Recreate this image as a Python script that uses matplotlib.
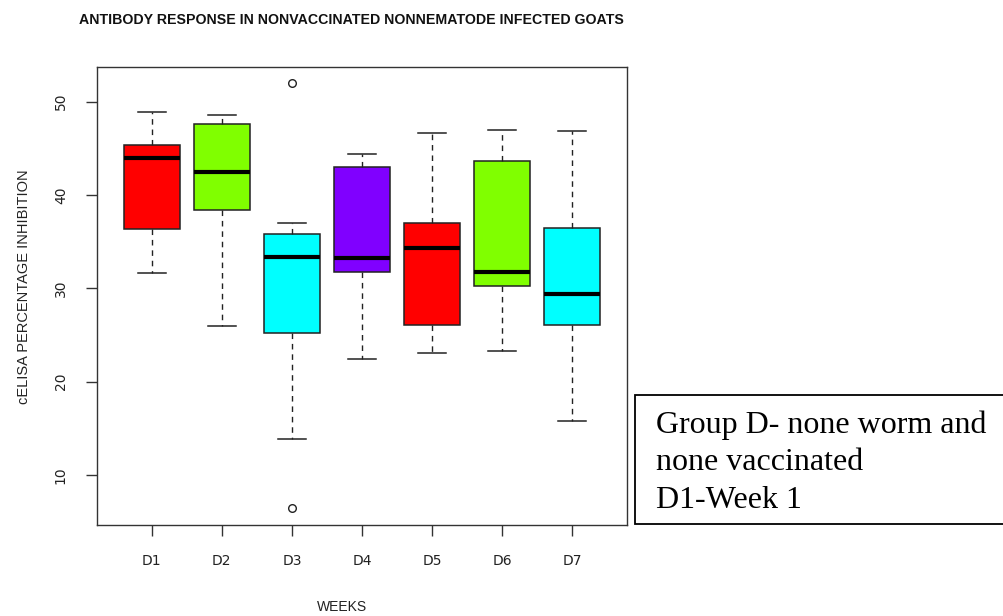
import matplotlib
matplotlib.use("Agg")
import matplotlib.pyplot as plt
from matplotlib.patches import Rectangle

# ---- data ----
labels = ["D1", "D2", "D3", "D4", "D5", "D6", "D7"]
whisker_low = [31.6, 26.0, 13.9, 22.4, 23.1, 23.3, 15.75]
q1 = [36.4, 38.4, 25.2, 31.7, 26.1, 30.25, 26.1]
median = [44.0, 42.5, 33.4, 33.2, 34.3, 31.7, 29.4]
q3 = [45.3, 47.6, 35.85, 43.0, 37.0, 43.6, 36.5]
whisker_high = [48.9, 48.6, 37.0, 44.4, 46.6, 47.0, 46.9]
outliers = [[], [], [52.0, 6.46], [], [], [], []]
box_colors = ["#FF0000", "#80FF00", "#00FFFF", "#8000FF", "#FF0000", "#80FF00", "#00FFFF"]
yticks = [10, 20, 30, 40, 50]

title = "ANTIBODY RESPONSE IN NONVACCINATED NONNEMATODE INFECTED GOATS"
xlabel = "WEEKS"
ylabel = "cELISA PERCENTAGE INHIBITION"
note_lines = ["Group D- none worm and", "none vaccinated", "D1-Week 1"]

W, H = 1004, 616
fig = plt.figure(figsize=(W / 100, H / 100), dpi=100)
fig.patch.set_facecolor("white")

def fx(px):
    return px / W

def fy(py):
    return 1 - py / H

ax = fig.add_axes([fx(97), fy(525), fx(627) - fx(97), fy(66.7) - fy(525)])

stats = []
for i in range(len(labels)):
    stats.append(dict(med=median[i], q1=q1[i], q3=q3[i],
                      whislo=whisker_low[i], whishi=whisker_high[i],
                      fliers=outliers[i], label=labels[i]))

edge = "#222222"
positions = list(range(1, len(labels) + 1))
bp = ax.bxp(stats, positions=positions, widths=0.8, capwidths=0.4,
            patch_artist=True, showfliers=True,
            boxprops=dict(edgecolor=edge, linewidth=1.1),
            whiskerprops=dict(color=edge, linewidth=1.0, linestyle=(0, (4, 3.5))),
            capprops=dict(color=edge, linewidth=1.1),
            medianprops=dict(color="black", linewidth=3.0, solid_capstyle="butt"),
            flierprops=dict(marker="o", markersize=5.5, markerfacecolor="none",
                            markeredgecolor=edge, markeredgewidth=1.0, linestyle="none"))
for patch, c in zip(bp["boxes"], box_colors):
    patch.set_facecolor(c)

ax.set_xlim(0.22, 7.78)
ax.set_ylim(4.64, 53.74)
ax.set_yticks(yticks)
ax.set_yticklabels([str(t) for t in yticks], rotation=90, va="center")
ax.set_xticks(positions)
ax.set_xticklabels(labels)
ax.tick_params(axis="both", length=8, width=1.0, color="#333333",
               labelsize=10, labelcolor="#222222", pad=13)
for s in ax.spines.values():
    s.set_color("#333333")
    s.set_linewidth(1.0)

# titles / axis labels
fig.text(fx(351), fy(20), title, ha="center", va="center",
         fontsize=10.2, fontweight="bold", color="#111111", family="Liberation Sans")
fig.text(fx(342), fy(607), xlabel, ha="center", va="center",
         fontsize=10, color="#222222", family="Liberation Sans")
fig.text(fx(24), fy(287), ylabel, ha="center", va="center", rotation=90,
         fontsize=10.5, color="#222222", family="Liberation Sans")

# annotation box
rect = Rectangle((fx(635), fy(524)), fx(1010) - fx(635), fy(395) - fy(524),
                 transform=fig.transFigure, facecolor="white", edgecolor="black",
                 linewidth=1.3, clip_on=False)
fig.add_artist(rect)
baselines = [433, 470, 507.5]
for line, b in zip(note_lines, baselines):
    fig.text(fx(656), fy(b), line, ha="left", va="baseline", fontsize=23,
             family="Liberation Serif", color="black")

fig.savefig("out.png", dpi=100)
